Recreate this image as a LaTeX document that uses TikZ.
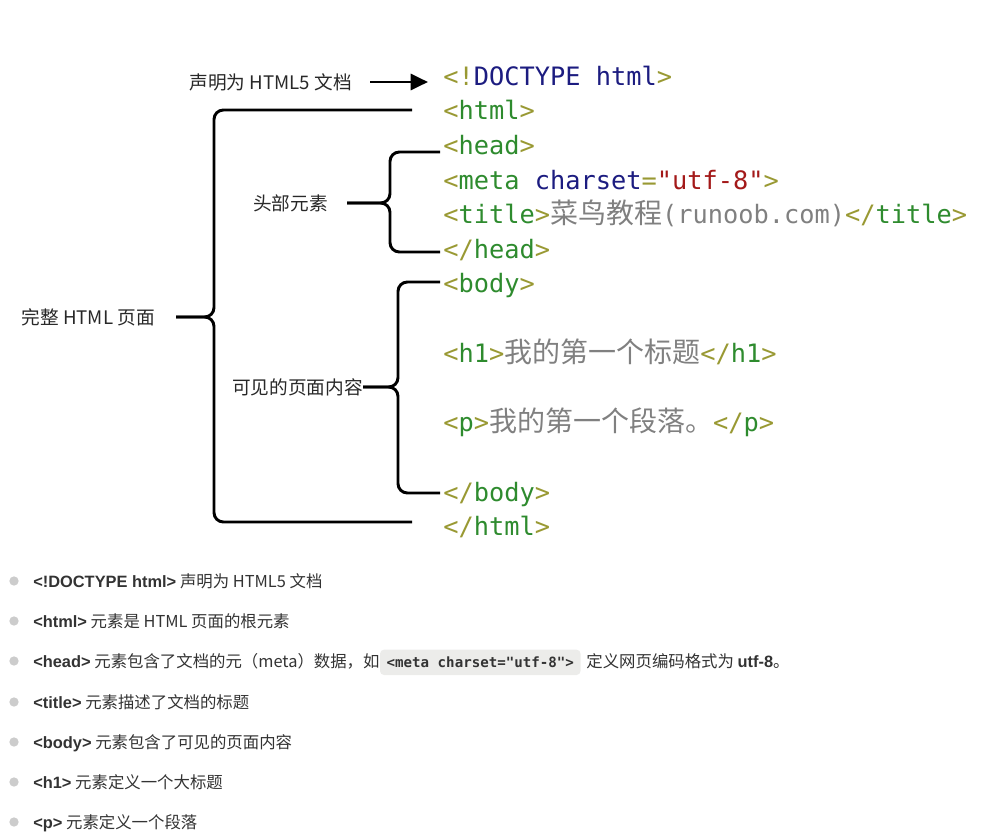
\documentclass[tikz,border=0pt]{standalone}
\usepackage{fontspec}
\setmainfont{Noto Sans CJK SC}
\setmonofont{DejaVu Sans Mono}
\newfontfamily\tagfont{Liberation Sans}
\newfontfamily\zhfont{Noto Sans CJK SC}
\usetikzlibrary{arrows.meta,positioning}

\definecolor{codebr}{RGB}{153,153,51}
\definecolor{tagname}{RGB}{46,139,46}
\definecolor{doctypecol}{RGB}{28,28,128}
\definecolor{attrcol}{RGB}{28,28,128}
\definecolor{strval}{RGB}{163,25,25}
\definecolor{plaintext}{RGB}{128,128,128}
\definecolor{labelcol}{RGB}{40,40,40}
\definecolor{bulletcol}{RGB}{51,51,51}
\definecolor{dotgray}{RGB}{204,204,204}
\definecolor{codebg}{RGB}{236,236,234}

\newcommand{\codebr}[1]{\textcolor{codebr}{#1}}
\newcommand{\codetag}[1]{\textcolor{tagname}{#1}}
\newcommand{\zh}[1]{{\zhfont\fontsize{21}{21}\selectfont\textcolor{plaintext}{#1}}}
\newcommand{\tagb}[1]{{\tagfont\bfseries #1}}

\begin{document}
\begin{tikzpicture}[x=0.75pt,y=-0.75pt,
  code/.style={anchor=base west,inner sep=0pt,font=\ttfamily\fontsize{19}{19}\selectfont},
  lbl/.style={anchor=east,inner ysep=0pt,text=labelcol,font=\fontsize{14}{15}\selectfont},
  brace/.style={line width=2.2pt,rounded corners=7pt},
  arrowline/.style={line width=2.2pt,-{Triangle[length=13pt,width=12pt]}},
  dot/.style={circle,fill=dotgray,inner sep=0pt,minimum size=7pt},
  bullet/.style={anchor=base west,inner sep=0pt,text=bulletcol,font=\fontsize{12.3}{14}\selectfont},
  codebox/.style={fill=codebg,rounded corners=3pt,inner xsep=5pt,inner ysep=4pt,
    text height=9pt,text depth=2pt,text=bulletcol,font=\ttfamily\bfseries\fontsize{10.6}{12}\selectfont}]
\useasboundingbox (0,0) rectangle (993,832);

% code lines
\node[code] (doctype) at (443,85) {\codebr{<!}\textcolor{doctypecol}{DOCTYPE html}\codebr{>}};
\node[code] (htmlopen) at (443,119) {\codebr{<}\codetag{html}\codebr{>}};
\node[code] (headopen) at (443,154) {\codebr{<}\codetag{head}\codebr{>}};
\node[code] (meta) at (443,189) {\codebr{<}\codetag{meta} \textcolor{attrcol}{charset}\codebr{=}\textcolor{strval}{"utf-8"}\codebr{>}};
\node[code] (title) at (443,223) {\codebr{<}\codetag{title}\codebr{>}\zh{菜鸟教程}\textcolor{plaintext}{(runoob.com)}\codebr{</}\codetag{title}\codebr{>}};
\node[code] (headclose) at (443,258) {\codebr{</}\codetag{head}\codebr{>}};
\node[code] (bodyopen) at (443,292) {\codebr{<}\codetag{body}\codebr{>}};
\node[code] (hone) at (443,362) {\codebr{<}\codetag{h1}\codebr{>}\zh{我的第一个标题}\codebr{</}\codetag{h1}\codebr{>}};
\node[code] (para) at (443,431) {\codebr{<}\codetag{p}\codebr{>}\zh{我的第一个段落。}\codebr{</}\codetag{p}\codebr{>}};
\node[code] (bodyclose) at (443,501) {\codebr{</}\codetag{body}\codebr{>}};
\node[code] (htmlclose) at (443,535) {\codebr{</}\codetag{html}\codebr{>}};

% labels
\node[lbl,inner xsep=13.5pt] (decl) at (370,82) {声明为 HTML5 文档};
\node[lbl,inner xsep=15.75pt] (full) at (176,317) {完整 HTML 页面};
\node[lbl,inner xsep=14.25pt] (headlbl) at (347,203) {头部元素};
\node[lbl,inner xsep=0pt] (bodylbl) at (363,387) {可见的页面内容};

\draw[arrowline,shorten >=11.25pt] (decl.east) -- (decl.east -| doctype.west);

% braces
\coordinate (fulltop) at (412,110);
\coordinate (fulltip) at (214,317);
\coordinate (fullbot) at (412,522);
\coordinate (headtop) at (440,152);
\coordinate (headtip) at (390,203);
\coordinate (headbot) at (440,252);
\coordinate (bodytop) at (440,282);
\coordinate (bodytip) at (398,387);
\coordinate (bodybot) at (440,493);
\draw[brace] (fulltop) -| (fulltip) -- (full.east);
\draw[brace] (full.east) -- (fulltip) |- (fullbot);
\draw[brace] (headtop) -| (headtip) -- (headlbl.east);
\draw[brace] (headlbl.east) -- (headtip) |- (headbot);
\draw[brace] (bodytop) -| (bodytip) -- (bodylbl.east);
\draw[brace] (bodylbl.east) -- (bodytip) |- (bodybot);

% bullet list
\foreach \y [count=\i] in {581,621,661,702,742,782,822}
  \node[dot] (dot\i) at (14,\y) {};
\node[bullet] (bone) at (33,587) {\tagb{<!DOCTYPE html>} 声明为 HTML5 文档};
\node[bullet] (btwo) at (33,627) {\tagb{<html>} 元素是 HTML 页面的根元素};
\node[bullet] (bthree) at (33,667) {\tagb{<head>} 元素包含了文档的元（meta）数据，如};
\node[codebox,right=0pt of bthree.base east,anchor=base west] (metabox) {<meta charset="utf-8">};
\node[bullet,right=4pt of metabox.base east,anchor=base west] (bthreeend) {定义网页编码格式为 \tagb{utf-8}。};
\node[bullet] (bfour) at (33,708) {\tagb{<title>} 元素描述了文档的标题};
\node[bullet] (bfive) at (33,748) {\tagb{<body>} 元素包含了可见的页面内容};
\node[bullet] (bsix) at (33,788) {\tagb{<h1>} 元素定义一个大标题};
\node[bullet] (bseven) at (33,828) {\tagb{<p>} 元素定义一个段落};
\end{tikzpicture}
\end{document}
